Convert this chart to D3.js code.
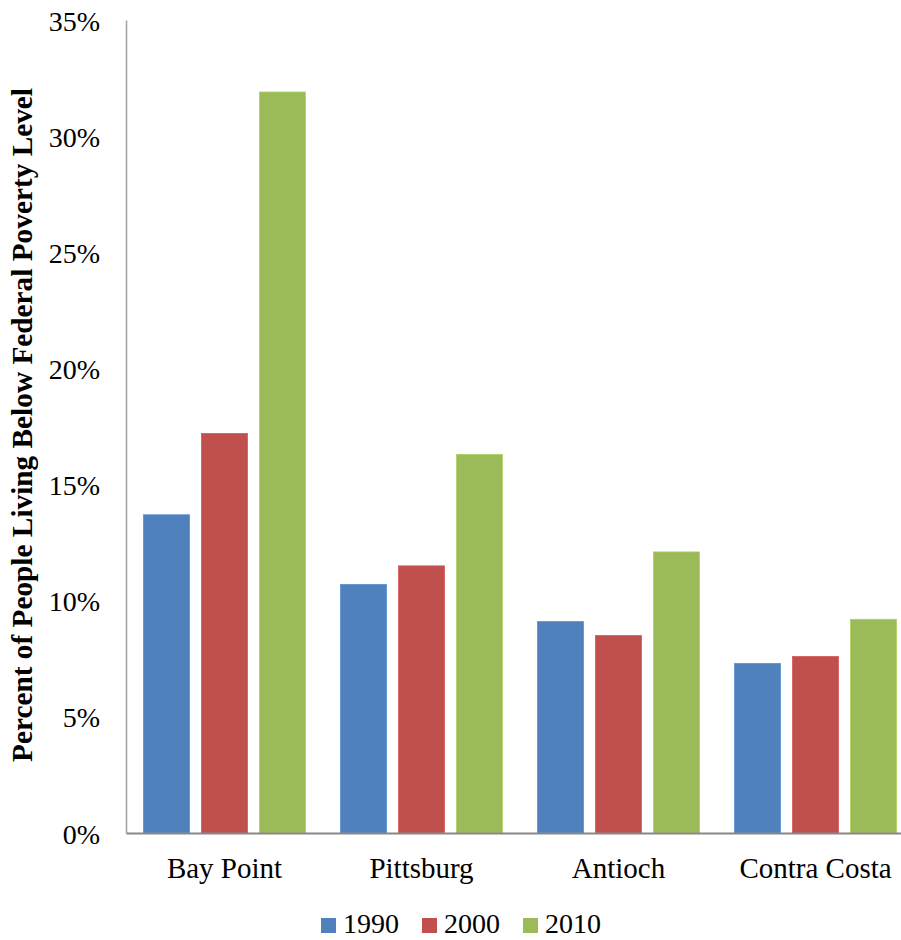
<!DOCTYPE html>
<html>
<head>
<meta charset="utf-8">
<script src="https://cdn.jsdelivr.net/npm/d3@7"></script>
<style>
  body { margin: 0; background: #fff; }
  svg text { font-family: "Liberation Serif", "Times New Roman", serif !important; fill: #000; }
</style>
</head>
<body>
<svg id="chart"></svg>
<script>
// poverty rate by place
var places = ['Bay Point', 'Pittsburg', 'Antioch', 'Contra Costa'];
var years = ['1990', '2000', '2010'];
var v1990 = [13.7, 10.7, 9.1, 7.3];
var v2000 = [17.2, 11.5, 8.5, 7.6];
var v2010 = [31.9, 16.3, 12.1, 9.2];
var yTicks = [0, 5, 10, 15, 20, 25, 30, 35];
var colors = ['#4F81BD', '#C0504D', '#9BBB59'];

var draw = function(){
    const width = 901, height = 940;
    const left = 126, top = 20, bottom = 833, right = 914;
    const serif = '"Liberation Serif", "Times New Roman", serif';

    var svg = d3.select('svg#chart')
    .attr('width', width)
    .attr('height', height)
    .attr('font-family', serif);

    var series = [v1990, v2000, v2010];

    let x0 = d3.scaleBand()
    .domain(places)
    .range([left, right])
    .paddingInner(0.178)
    .paddingOuter(0.089);

    let x1 = d3.scaleBand()
    .domain(years)
    .range([0, x0.bandwidth()])
    .paddingInner(0.207);

    let y = d3.scaleLinear()
    .domain([0, 35])
    .range([bottom, top]);

    // bars
    let groups = svg.append('g')
    .selectAll('g')
    .data(places)
    .enter().append('g')
    .attr('transform', d => 'translate(' + x0(d) + ',0)');

    groups.selectAll('rect')
    .data((d, i) => years.map((yr, j) => ({year: yr, value: series[j][i], c: colors[j]})))
    .enter().append('rect')
    .attr('x', d => x1(d.year))
    .attr('y', d => y(d.value))
    .attr('width', x1.bandwidth())
    .attr('height', d => y(0) - y(d.value))
    .attr('fill', d => d.c)
    .attr('stroke', d => d3.color(d.c).brighter(0.3))
    .attr('stroke-width', 0.8);

    // y axis
    let yAxis = svg.append('g')
    .attr('transform', 'translate(' + left + ',0)')
    .call(d3.axisLeft(y).tickValues(yTicks).tickSize(0).tickPadding(26).tickFormat(d => d + '%'))
    .attr('font-family', serif);
    yAxis.select('.domain').attr('stroke', '#a6a6a6').attr('stroke-width', 1.6);
    yAxis.selectAll('text')
    .style('font-size', '28px')
    .attr('dy', '0.36em');

    // x axis
    let xAxis = svg.append('g')
    .attr('transform', 'translate(0,' + bottom + ')')
    .call(d3.axisBottom(x0).tickSize(0).tickPadding(0).tickSizeOuter(0))
    .attr('font-family', serif);
    xAxis.select('.domain').attr('stroke', '#878787').attr('stroke-width', 2);
    xAxis.selectAll('text')
    .style('font-size', '29px')
    .attr('y', 45)
    .attr('dy', 0);

    // y label
    svg.append('text')
    .attr('transform', 'translate(32,' + ((88 + 762) / 2) + ') rotate(-90)')
    .attr('text-anchor', 'middle')
    .style('font-size', '29.3px')
    .style('font-weight', 'bold')
    .text('Percent of People Living Below Federal Poverty Level');

    // legend
    let legendX = [321, 422, 523];
    let legend = svg.append('g')
    .selectAll('g')
    .data(years)
    .enter().append('g')
    .attr('transform', (d, i) => 'translate(' + legendX[i] + ',918)');
    legend.append('rect')
    .attr('width', 15)
    .attr('height', 15)
    .attr('fill', (d, i) => colors[i]);
    legend.append('text')
    .attr('x', 22)
    .attr('y', 15)
    .style('font-size', '28px')
    .text(d => d);
}

draw();
</script>
</body>
</html>
